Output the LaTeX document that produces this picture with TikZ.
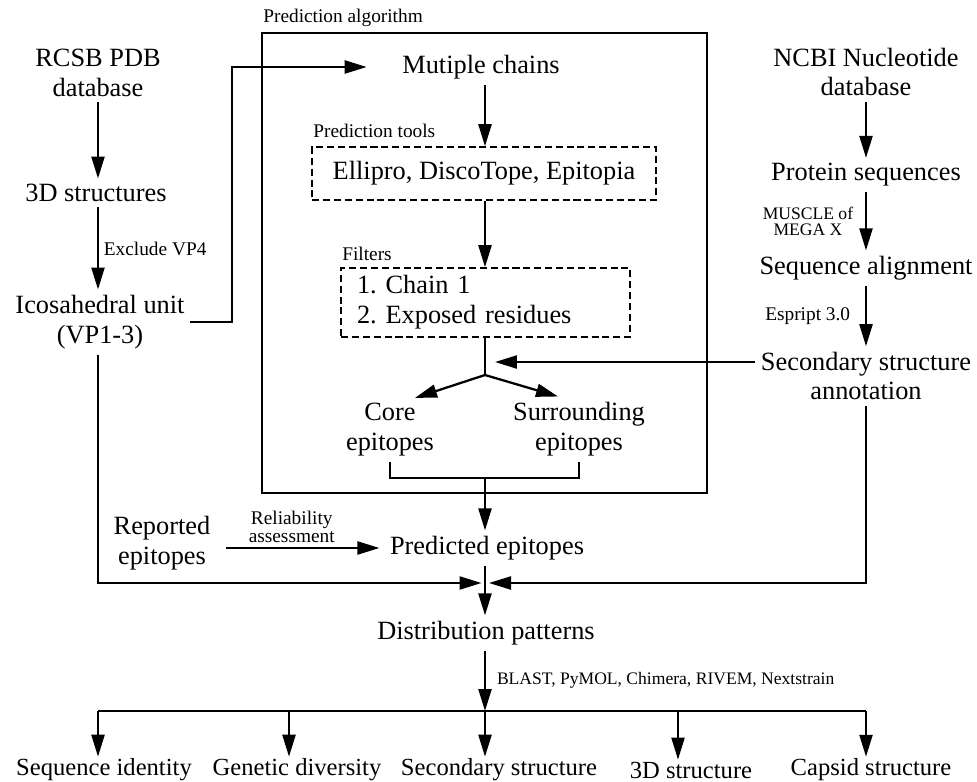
\documentclass[tikz,border=0pt]{standalone}
\usepackage{fontspec}
\setmainfont{Liberation Serif}
\usetikzlibrary{arrows.meta, positioning, calc}

\begin{document}
\begin{tikzpicture}[x=0.02cm, y=-0.02cm,
  box/.style={font=\fontsize{15}{17}\selectfont, align=center, inner sep=3pt},
  leaf/.style={font=\fontsize{14}{16}\selectfont, inner sep=1pt},
  note/.style={font=\fontsize{11}{10}\selectfont, align=center, inner sep=1pt},
  tool/.style={draw, dash pattern=on 4pt off 2.2pt, line width=0.9pt, inner sep=0pt,
               font=\fontsize{15}{17}\selectfont},
  arr/.style={-{Triangle[length=4.4mm,width=2.6mm]}, line width=1.3pt},
  link/.style={line width=1.3pt}
]
\useasboundingbox (0,0) rectangle (977,781);

% structures
\node[box] (rcsb)   at (98,73)  {RCSB PDB\\database};
\node[box] (struct) at (96,193) {3D structures};
\node[box] (ico)    at (100,322) {Icosahedral unit\\(VP1-3)};

% prediction algorithm
\node[draw, line width=0.9pt, minimum width=8.9cm, minimum height=9.2cm, inner sep=0pt] (algbox) at (484.5,263) {};
\node[note, anchor=south west, yshift=0.06cm] (alglab) at (algbox.north west) {Prediction algorithm};
\node[box] (chains) at (481,67) {Mutiple chains};
\node[tool, minimum width=6.88cm, minimum height=1.06cm] (tools) at (484,173.5) {Ellipro, DiscoTope, Epitopia};
\node[note, anchor=south west, yshift=0.12cm] (toollab) at (tools.north west) {Prediction tools};
\node[tool, minimum width=5.78cm, minimum height=1.38cm, text width=5.14cm, align=left,
      inner xsep=0.32cm] (filters) at (485.5,302.5) {1.\ Chain 1\\2.\ Exposed residues};
\node[note, anchor=south west, yshift=0.08cm] (filtlab) at (filters.north west) {Filters};
\coordinate (branch) at (485,375);
\coordinate (hit) at (485,362);
\node[box] (core) at (390,430) {Core\\epitopes};
\node[box] (surr) at (579,429) {Surrounding\\epitopes};
\coordinate (join) at (485,478);

% sequences
\node[box] (ncbi)  at (866,72)  {NCBI Nucleotide\\database};
\node[box] (prot)  at (866,175) {Protein sequences};
\node[box] (align) at (866,268) {Sequence alignment};
\node[box] (sec)   at (866,376) {Secondary structure\\annotation};

% epitopes
\node[box] (pred) at (487,548) {Predicted epitopes};
\node[box] (rep)  at (162,543) {Reported\\epitopes};
\coordinate (merge) at (485,583);
\node[box] (dist) at (486,633) {Distribution patterns};
\coordinate (split) at (485,711);

% results
\node[leaf] (seqid)  at (104,770) {Sequence identity};
\node[leaf] (gendiv) at (297,770) {Genetic diversity};
\node[leaf] (secst)  at (499,770) {Secondary structure};
\node[leaf] (st3d)   at (691,770) {3D structure};
\node[leaf] (capsid) at (871,770) {Capsid structure};

% connectors
\draw[arr] (rcsb) -- (rcsb |- struct.north);
\draw[arr] (struct.south -| rcsb) -- (rcsb |- ico.north)
  node[midway, right, note, xshift=0.06cm] {Exclude VP4};
\draw[arr, shorten >=0.6cm] (ico.east) -- (232,0 |- ico.east) |- (chains.west);
\draw[arr] (chains.south -| branch) -- (branch |- tools.north);
\draw[arr] (tools.south -| branch) -- (branch |- filters.north);
\draw[link] (filters.south -| branch) -- (branch);
\draw[arr] (branch) -- ([xshift=0.5cm]core.north);
\draw[arr] (branch) -- ([xshift=-0.42cm]surr.north);
\draw[link] (core.south) |- (join) -| (surr.south);
\draw[arr] (join) -- (join |- pred.north);

\draw[arr] (ncbi) -- (prot);
\draw[arr] (prot) -- (align)
  node[midway, left, xshift=-0.2cm, font=\fontsize{10}{9.5}\selectfont, align=center, inner sep=1pt] {MUSCLE of\\MEGA X};
\draw[arr] (align) -- (sec)
  node[midway, left, note, xshift=-0.26cm] {Espript 3.0};
\draw[arr, shorten >=0.2cm] (sec.west |- hit) -- (hit);

\draw[arr, shorten <=0.2cm, shorten >=0.1cm] (rep.east |- pred) -- (pred.west)
  node[pos=0.45, above, note, yshift=0.05cm] {Reliability\\assessment};
\draw[arr, shorten >=0.07cm] (ico.south -| rcsb) |- (merge);
\draw[arr, shorten >=0.08cm] (sec.south) |- (merge);
\draw[arr] (pred.south -| merge) -- (merge |- dist.north);
\draw[arr] (dist.south -| merge) -- (split)
  node[midway, right, font=\fontsize{10}{10}\selectfont, xshift=0.1cm] {BLAST, PyMOL, Chimera, RIVEM, Nextstrain};
\draw[link] (split -| rcsb) -- (split -| ncbi);
\foreach \n/\x in {seqid/98, gendiv/289, secst/485, st3d/678, capsid/866}
  \draw[arr] (\x,0 |- split) -- (\x,0 |- \n.north);
\end{tikzpicture}
\end{document}
